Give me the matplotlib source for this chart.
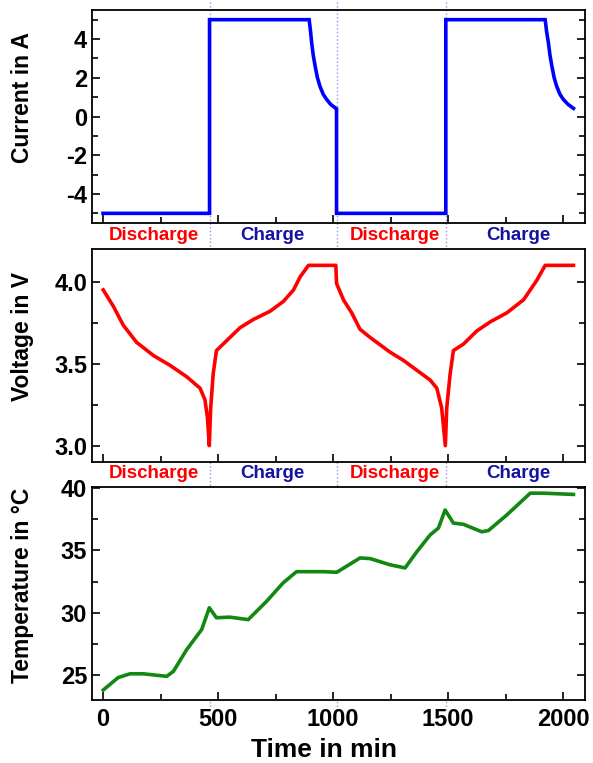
import matplotlib
matplotlib.use("Agg")
import matplotlib.pyplot as plt
import matplotlib.transforms as mtransforms
from matplotlib.ticker import MultipleLocator

plt.rcParams["font.family"] = ["Liberation Sans", "DejaVu Sans"]
plt.rcParams["font.weight"] = "bold"
plt.rcParams["axes.unicode_minus"] = False

# current (A) vs time (min)
cur_t = [0, 463, 463, 896, 902, 907, 914, 922, 932, 943, 957, 972, 990, 1009, 1015, 1015,
         1490, 1490, 1922, 1928, 1936, 1943, 1951, 1961, 1972, 1986, 2001, 2022, 2045]
cur_i = [-5, -5, 5, 5, 4.4, 3.8, 3.15, 2.6, 2.0, 1.56, 1.15, 0.88, 0.62, 0.45, 0.40, -5,
         -5, 5, 5, 4.4, 3.8, 3.15, 2.6, 2.0, 1.56, 1.15, 0.88, 0.62, 0.42]

# voltage (V) vs time (min)
volt_t = [1, 45, 88, 146, 219, 291, 364, 422, 443, 454, 462,
          468, 479, 493, 537, 596, 654, 726, 784, 828, 857, 893, 1012,
          1015, 1045, 1081, 1117, 1161, 1190, 1248, 1306, 1364, 1422, 1451, 1472, 1488,
          1494, 1509, 1523, 1567, 1625, 1683, 1755, 1828, 1886, 1922, 2045]
volt_v = [3.95, 3.85, 3.735, 3.63, 3.55, 3.49, 3.42, 3.35, 3.28, 3.17, 3.0,
          3.23, 3.44, 3.58, 3.64, 3.72, 3.77, 3.82, 3.88, 3.95, 4.03, 4.1, 4.1,
          3.99, 3.89, 3.81, 3.71, 3.66, 3.63, 3.57, 3.52, 3.46, 3.40, 3.35, 3.23, 3.0,
          3.23, 3.44, 3.58, 3.62, 3.70, 3.755, 3.81, 3.89, 4.01, 4.1, 4.1]

# temperature (degC) vs time (min)
temp_t = [1, 66, 117, 175, 277, 306, 364, 429, 462, 493, 551, 631, 710, 783, 841,
          958, 1016, 1117, 1161, 1248, 1313, 1364, 1422, 1458, 1487, 1523, 1567,
          1646, 1675, 1755, 1857, 1915, 2045]
temp_c = [23.8, 24.8, 25.1, 25.1, 24.9, 25.3, 27.05, 28.66, 30.4, 29.6, 29.65, 29.45,
          30.9, 32.4, 33.3, 33.3, 33.25, 34.4, 34.35, 33.85, 33.6, 34.9, 36.25, 36.8,
          38.25, 37.2, 37.1, 36.5, 36.6, 37.85, 39.6, 39.6, 39.5]

phase_t = [463, 1015, 1490]
phase_names = ["Discharge", "Charge", "Discharge", "Charge"]
phase_label_t = [220, 736, 1270, 1805]
phase_colors = ["#ff0000", "#1414a0", "#ff0000", "#1414a0"]

fig = plt.figure(figsize=(5.93, 7.63), dpi=100)
left, width, height = 0.1551, 0.8314, 0.2792
ax1 = fig.add_axes([left, 0.7077, width, height])
ax2 = fig.add_axes([left, 0.3945, width, height])
ax3 = fig.add_axes([left, 0.0826, width, height])
axes = [ax1, ax2, ax3]

ax1.plot(cur_t, cur_i, color="#0000ff", lw=2.6, solid_joinstyle="miter")
ax2.plot(volt_t, volt_v, color="#ff0000", lw=2.6)
ax3.plot(temp_t, temp_c, color="#128812", lw=2.6)

ax1.set_ylim(-5.5, 5.5)
ax1.yaxis.set_major_locator(MultipleLocator(2))
ax1.yaxis.set_minor_locator(MultipleLocator(1))
ax2.set_ylim(2.9, 4.2)
ax2.yaxis.set_major_locator(MultipleLocator(0.5))
ax2.yaxis.set_minor_locator(MultipleLocator(0.25))
ax2.yaxis.set_major_formatter(matplotlib.ticker.FormatStrFormatter("%.1f"))
ax3.set_ylim(23, 40.1)
ax3.yaxis.set_major_locator(MultipleLocator(5))
ax3.yaxis.set_minor_locator(MultipleLocator(2.5))

ylabels = ["Current in A", "Voltage in V", "Temperature in °C"]
ylabel_y = [0.587, 0.59, 0.54]
for ax, lab, ly in zip(axes, ylabels, ylabel_y):
    ax.set_xlim(-48, 2095)
    ax.xaxis.set_major_locator(MultipleLocator(500))
    ax.xaxis.set_minor_locator(MultipleLocator(250))
    ax.tick_params(which="both", direction="in", left=True, right=True,
                   top=False, bottom=True, width=1.2, labelsize=17)
    ax.tick_params(which="major", length=6)
    ax.tick_params(which="minor", length=4)
    ax.tick_params(axis="x", pad=6)
    for sp in ax.spines.values():
        sp.set_linewidth(1.3)
    ax.set_ylabel(lab, fontsize=16.5, fontweight="bold")
    ax.yaxis.set_label_coords(-0.118, ly)

ax1.tick_params(labelbottom=False)
ax2.tick_params(labelbottom=False)
ax3.set_xlabel("Time in min", fontsize=19, fontweight="bold")
ax3.xaxis.set_label_coords(0.47, -0.18)

# phase labels between panels
for ax, yoff in [(ax1, -0.059), (ax2, -0.056)]:
    tr = mtransforms.blended_transform_factory(ax.transData, ax.transAxes)
    for t, name, c in zip(phase_label_t, phase_names, phase_colors):
        ax.text(t, yoff, name, transform=tr, color=c, fontsize=13.5,
                fontweight="bold", ha="center", va="center")

# dotted phase boundaries across the whole figure
tr = mtransforms.blended_transform_factory(ax1.transData, fig.transFigure)
for t in phase_t:
    ax1.plot([t, t], [0.997, 0.067], transform=tr, color="#9a9ae6", lw=1.0,
             ls=":", clip_on=False, zorder=0)

fig.savefig("out.png", dpi=100)
